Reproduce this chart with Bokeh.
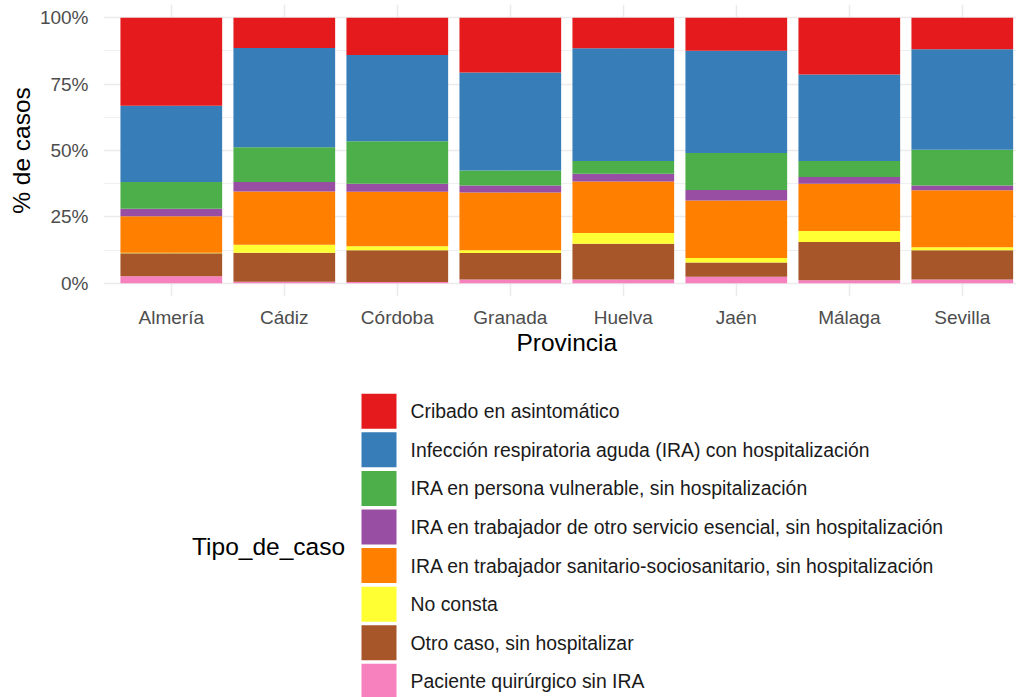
from bokeh.plotting import figure
from bokeh.models import FixedTicker, Range1d, ColumnDataSource, PrintfTickFormatter
from bokeh.layouts import column
from bokeh.embed import file_html
from bokeh.resources import INLINE
from bokeh.core.properties import value

# ---------------- data ----------------
provincias = ["Almería", "Cádiz", "Córdoba", "Granada", "Huelva", "Jaén", "Málaga", "Sevilla"]

tipos = [
    "Cribado en asintomático",
    "Infección respiratoria aguda (IRA) con hospitalización",
    "IRA en persona vulnerable, sin hospitalización",
    "IRA en trabajador de otro servicio esencial, sin hospitalización",
    "IRA en trabajador sanitario-sociosanitario, sin hospitalización",
    "No consta",
    "Otro caso, sin hospitalizar",
    "Paciente quirúrgico sin IRA",
]
colores = ["#E41A1C", "#377EB8", "#4DAF4A", "#984EA3", "#FF7F00", "#FFFF33", "#A65628", "#F781BF"]

# percentage of cases per province (order: Almería ... Sevilla)
cribado        = [33.1, 11.4, 14.0, 20.6, 11.5, 12.4, 21.4, 11.9]
infeccion_hosp = [28.8, 37.4, 32.5, 36.9, 42.5, 38.5, 32.6, 37.8]
vulnerable     = [10.0, 13.1, 16.0,  5.7,  4.8, 14.0,  6.0, 13.5]
otro_servicio  = [ 2.9,  3.5,  3.0,  2.6,  2.9,  3.9,  2.5,  1.8]
sanitario      = [13.7, 20.1, 20.6, 21.8, 19.4, 21.7, 17.8, 21.4]
no_consta      = [ 0.2,  3.0,  1.5,  1.0,  4.0,  1.7,  4.2,  1.2]
otro_caso      = [ 8.7, 10.9, 11.9, 10.0, 13.5,  5.4, 14.4, 11.0]
quirurgico     = [ 2.6,  0.6,  0.5,  1.4,  1.4,  2.4,  1.1,  1.4]

y_ticks = [0, 25, 50, 75, 100]
y_minor = [12.5, 37.5, 62.5, 87.5]

x_title = "Provincia"
y_title = "% de casos"
legend_title = "Tipo_de_caso"

series = [cribado, infeccion_hosp, vulnerable, otro_servicio, sanitario, no_consta, otro_caso, quirurgico]

# ---------------- main chart ----------------
FONT = "Liberation Sans"
n = len(provincias)
keys = [f"s{i}" for i in range(len(series))]
data = {"x": list(range(1, n + 1))}
for k, s in zip(keys, series):
    data[k] = s
src = ColumnDataSource(data)

W, H_TOTAL = 1016, 697
H1 = 330
LEFT, TOP = 103, 4
FRAME_BOTTOM = 296
PX_PER_CAT = 113.0
X0 = 0.4
frame_w = W - LEFT

p = figure(width=W, height=H1,
           x_range=Range1d(X0, X0 + frame_w / PX_PER_CAT),
           y_range=Range1d(-5.0, 105.0),
           output_backend="svg", toolbar_location=None,
           min_border_left=LEFT, min_border_right=0, min_border_top=TOP,
           min_border_bottom=H1 - FRAME_BOTTOM)
p.outline_line_color = None
p.background_fill_color = "white"
p.border_fill_color = "white"

p.vbar_stack(keys[::-1], x="x", width=0.9, fill_color=colores[::-1], line_color=None, source=src)

# axes
p.xaxis.ticker = FixedTicker(ticks=data["x"])
p.xaxis.major_label_overrides = {i + 1: name for i, name in enumerate(provincias)}
p.yaxis.ticker = FixedTicker(ticks=y_ticks, minor_ticks=y_minor)
p.yaxis.formatter = PrintfTickFormatter(format="%d%%")

for ax in (p.xaxis[0], p.yaxis[0]):
    ax.axis_line_color = None
    ax.major_tick_line_color = None
    ax.minor_tick_line_color = None
    ax.major_tick_out = 0
    ax.major_tick_in = 0
    ax.major_label_text_font = FONT
    ax.major_label_text_font_size = "19px"
    ax.major_label_text_color = "#4D4D4D"

p.xaxis.major_label_standoff = 10
p.yaxis.major_label_standoff = 11
p.yaxis.axis_label = y_title
p.yaxis.axis_label_text_font = FONT
p.yaxis.axis_label_text_font_size = "24.5px"
p.yaxis.axis_label_text_font_style = "normal"
p.yaxis.axis_label_text_color = "black"
p.yaxis.axis_label_standoff = 2

# grid
p.xgrid.grid_line_color = "#EBEBEB"
p.xgrid.grid_line_width = 1.5
p.ygrid.grid_line_color = "#EBEBEB"
p.ygrid.grid_line_width = 1.5
p.ygrid.minor_grid_line_color = "#EBEBEB"
p.ygrid.minor_grid_line_width = 0.8

# ---------------- lower panel: x title + legend ----------------
H2 = H_TOTAL - H1
leg = figure(width=W, height=H2,
             x_range=Range1d(LEFT, W), y_range=Range1d(H_TOTAL, H1),
             output_backend="svg", toolbar_location=None,
             x_axis_type=None, y_axis_type=None,
             min_border_left=LEFT, min_border_right=0, min_border_top=0, min_border_bottom=0)
leg.outline_line_color = None
leg.grid.visible = False
leg.background_fill_color = "white"
leg.border_fill_color = "white"

# x-axis title centred on the panel (centre of the categories)
x_title_px = LEFT + ((1 + n) / 2 - X0) * PX_PER_CAT
leg.text(x=[x_title_px], y=[342], text=[x_title],
         text_baseline="middle", text_align="center",
         text_font=value(FONT), text_font_size="24.5px", text_color="black")

LEG_TOP, PITCH, KEY = 393.3, 38.57, 35.0
KEY_X0, LABEL_X, TITLE_X = 361.0, 410.0, 191.5
tops = [LEG_TOP + PITCH * i for i in range(len(tipos))]
bots = [t + KEY for t in tops]
mids = [t + KEY / 2 for t in tops]

leg.quad(left=KEY_X0, right=KEY_X0 + KEY, top=tops, bottom=bots,
         fill_color=colores, line_color=None)
leg.text(x=[LABEL_X] * len(tipos), y=mids, text=tipos,
         text_baseline="middle", text_align="left",
         text_font=value(FONT), text_font_size="19.4px", text_color="#1A1A1A")
leg.text(x=[TITLE_X], y=[(tops[0] + bots[-1]) / 2], text=[legend_title],
         text_baseline="middle", text_align="left",
         text_font=value(FONT), text_font_size="24.5px", text_color="black")

layout = column(p, leg)
open("out.html", "w").write(file_html(layout, INLINE))
